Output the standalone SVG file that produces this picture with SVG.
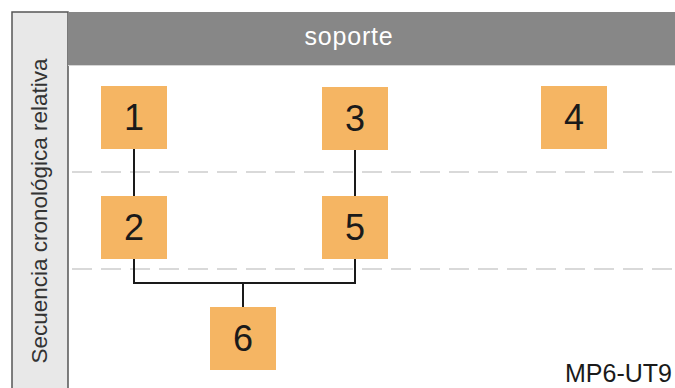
<svg xmlns="http://www.w3.org/2000/svg" width="675" height="388" viewBox="0 0 675 388">
<style>
.box{fill:#f5b563}
.num{font-family:"Liberation Sans",Arial,sans-serif;font-size:36px;fill:#1a1a1a;text-anchor:middle}
.dash{stroke:#d9d9d9;stroke-width:2;stroke-dasharray:20 9;fill:none}
.conn{stroke:#1a1a1a;stroke-width:2;fill:none}
.lbl{font-family:"Liberation Sans",Arial,sans-serif}
</style>
<rect width="675" height="388" fill="#ffffff"/>
<rect x="12" y="12" width="56" height="380" fill="#e8e8e8" stroke="#555555" stroke-width="1.5"/>
<rect x="68" y="12" width="607" height="53" fill="#878787"/>
<line x1="68" y1="65.5" x2="675" y2="65.5" stroke="#d6d6d6" stroke-width="1"/>
<text class="lbl" x="349" y="45" font-size="25" fill="#ffffff" text-anchor="middle" letter-spacing="0.8">soporte</text>
<text class="lbl" transform="translate(47,211) rotate(-90)" font-size="22.5" fill="#333333" text-anchor="middle">Secuencia cronológica relativa</text>
<line class="dash" x1="72" y1="172" x2="672" y2="172"/>
<line class="dash" x1="72" y1="269" x2="672" y2="269"/>
<g id="connectors">
<line class="conn" x1="134" y1="149" x2="134" y2="196"/>
<line class="conn" x1="355" y1="150" x2="355" y2="196"/>
<polyline class="conn" points="134,259 134,283 355,283 355,259"/>
<line class="conn" x1="243" y1="283" x2="243" y2="307"/>
</g>
<g id="n1"><rect class="box" x="101" y="86" width="66" height="63"/><text class="num" x="134" y="130">1</text></g>
<g id="n3"><rect class="box" x="322" y="87" width="66" height="63"/><text class="num" x="355" y="131">3</text></g>
<g id="n4"><rect class="box" x="541" y="86" width="66" height="63"/><text class="num" x="574" y="130">4</text></g>
<g id="n2"><rect class="box" x="101" y="196" width="66" height="63"/><text class="num" x="134" y="240">2</text></g>
<g id="n5"><rect class="box" x="322" y="196" width="66" height="63"/><text class="num" x="355" y="240">5</text></g>
<g id="n6"><rect class="box" x="210" y="307" width="66" height="63"/><text class="num" x="243" y="351">6</text></g>
<text class="lbl" x="672" y="382" font-size="25" fill="#1a1a1a" text-anchor="end">MP6-UT9</text>
</svg>
